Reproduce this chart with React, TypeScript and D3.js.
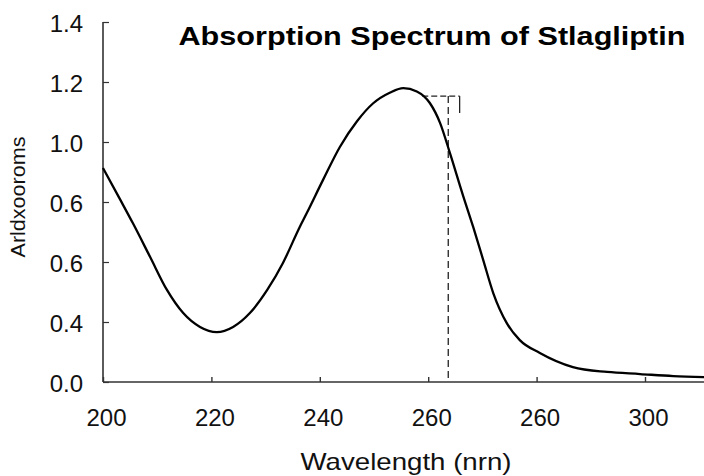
import { useEffect, useRef } from 'react'
import * as d3 from 'd3'

// spectrum
const wavelengths = [
  200, 203.1, 205.5, 208.7, 211.8, 214.8, 217.9, 221, 224, 227.1, 230.3, 233.2,
  236.3, 237.6, 240.6, 243.7, 246.9, 249.8, 253, 255.4, 257.9, 260.3, 262.2,
  264, 266.4, 268.3, 270.1, 272, 274.5, 276.9, 280.6, 286.7, 293, 299.1, 305.2, 311,
]
const absorbance = [
  0.832, 0.712, 0.618, 0.486, 0.358, 0.268, 0.214, 0.194, 0.214, 0.268, 0.358, 0.463,
  0.603, 0.657, 0.786, 0.914, 1.015, 1.083, 1.126, 1.143, 1.13, 1.085, 1.007,
  0.891, 0.727, 0.603, 0.478, 0.346, 0.229, 0.163, 0.113, 0.058, 0.039, 0.031, 0.023, 0.019,
]

// tick labels exactly as printed
const xTickValues = [200, 220, 240, 260, 280, 300]
const xTickLabels = ['200', '220', '240', '260', '260', '300']
const yTickLabels = ['0.0', '0.4', '0.6', '0.6', '1.0', '1.2', '1.4']

// dashed marker near the peak
const markerX = 263.7
const markerY = 1.112
const markerLeft = 258.9
const markerRight = 265.8
const markerBracketEnd = 1.046

const FONT = '"Liberation Sans", Arial, Helvetica, sans-serif'

function App() {
  const svgRef = useRef<SVGSVGElement | null>(null)

  useEffect(() => {
    const width = 704
    const height = 476
    const svg = d3.select(svgRef.current)
      .attr('width', width)
      .attr('height', height)
      .style('background', '#fff')

    svg.selectAll('*').remove()

    const x = d3.scaleLinear().domain([200, 300]).range([103, 645])
    const y = d3.scaleLinear().domain([0, 1.4]).range([382, 22])
    const yTickValues = d3.range(yTickLabels.length).map(i => i * 1.4 / (yTickLabels.length - 1))

    // ── Axes ──────────────────────────────────────────────
    const xAxis = d3.axisBottom(x)
      .tickValues(xTickValues)
      .tickSize(-5)
      .tickFormat((_, i) => xTickLabels[i])

    const gx = svg.append('g')
      .attr('transform', `translate(0,${y(0)})`)
      .call(xAxis)
    gx.select('.domain').remove()
    gx.append('line')
      .attr('x1', x(200)).attr('x2', width)
      .attr('stroke', '#333').attr('stroke-width', 1.6)
    gx.selectAll('.tick line').attr('stroke', '#333').attr('stroke-width', 1.4)
    gx.selectAll('.tick text')
      .attr('y', 44)
      .attr('dy', 0)
      .attr('dx', 3)
      .attr('fill', '#111')
      .style('font-family', FONT)
      .style('font-size', '24px')

    const yAxis = d3.axisLeft(y)
      .tickValues(yTickValues)
      .tickSize(-6)
      .tickFormat((_, i) => yTickLabels[i])

    const gy = svg.append('g')
      .attr('transform', `translate(${x(200)},0)`)
      .call(yAxis)
    gy.select('.domain')
      .attr('d', `M0,${y(1.4)}V${y(0)}`)
      .attr('stroke', '#333').attr('stroke-width', 1.6)
    gy.selectAll('.tick line').attr('stroke', '#333').attr('stroke-width', 1.2)
    gy.selectAll('.tick text')
      .attr('x', -20)
      .attr('dy', '0.4em')
      .attr('fill', '#111')
      .style('font-family', FONT)
      .style('font-size', '24px')

    // ── Dashed marker ─────────────────────────────────────
    const marker = svg.append('g')
      .attr('stroke', '#222')
      .attr('fill', 'none')
      .attr('stroke-width', 1.3)
    marker.append('line')
      .attr('x1', x(markerX)).attr('x2', x(markerX))
      .attr('y1', y(markerY)).attr('y2', y(0))
      .attr('stroke-dasharray', '7,4')
    marker.append('line')
      .attr('x1', x(markerLeft)).attr('x2', x(markerRight))
      .attr('y1', y(markerY)).attr('y2', y(markerY))
      .attr('stroke-dasharray', '6,3')
    marker.append('line')
      .attr('x1', x(markerRight)).attr('x2', x(markerRight))
      .attr('y1', y(markerY)).attr('y2', y(markerBracketEnd))

    // ── Spectrum curve ────────────────────────────────────
    const points: [number, number][] = wavelengths.map((w, i) => [w, absorbance[i]])
    const line = d3.line<[number, number]>()
      .x(d => x(d[0]))
      .y(d => y(d[1]))
      .curve(d3.curveMonotoneX)

    svg.append('path')
      .datum(points)
      .attr('d', line)
      .attr('fill', 'none')
      .attr('stroke', '#000')
      .attr('stroke-width', 2.3)
      .attr('stroke-linejoin', 'round')

    // ── Titles ────────────────────────────────────────────
    svg.append('text')
      .attr('x', 432)
      .attr('y', 45)
      .attr('text-anchor', 'middle')
      .attr('textLength', 507)
      .attr('lengthAdjust', 'spacingAndGlyphs')
      .style('font-family', FONT)
      .style('font-weight', 'bold')
      .style('font-size', '25px')
      .attr('fill', '#000')
      .text('Absorption Spectrum of Stlagliptin')

    svg.append('text')
      .attr('x', 406)
      .attr('y', 470)
      .attr('text-anchor', 'middle')
      .attr('textLength', 211)
      .attr('lengthAdjust', 'spacingAndGlyphs')
      .style('font-family', FONT)
      .style('font-size', '24px')
      .attr('fill', '#111')
      .text('Wavelength (nrn)')

    svg.append('text')
      .attr('transform', 'translate(25,197) rotate(-90)')
      .attr('text-anchor', 'middle')
      .attr('textLength', 121)
      .attr('lengthAdjust', 'spacingAndGlyphs')
      .style('font-family', FONT)
      .style('font-size', '20px')
      .attr('fill', '#111')
      .text('Arldxooroms')
  }, [])

  return (
    <svg
      ref={svgRef}
      style={{ position: 'absolute', left: 0, top: 0, display: 'block' }}
    />
  )
}

export default App
